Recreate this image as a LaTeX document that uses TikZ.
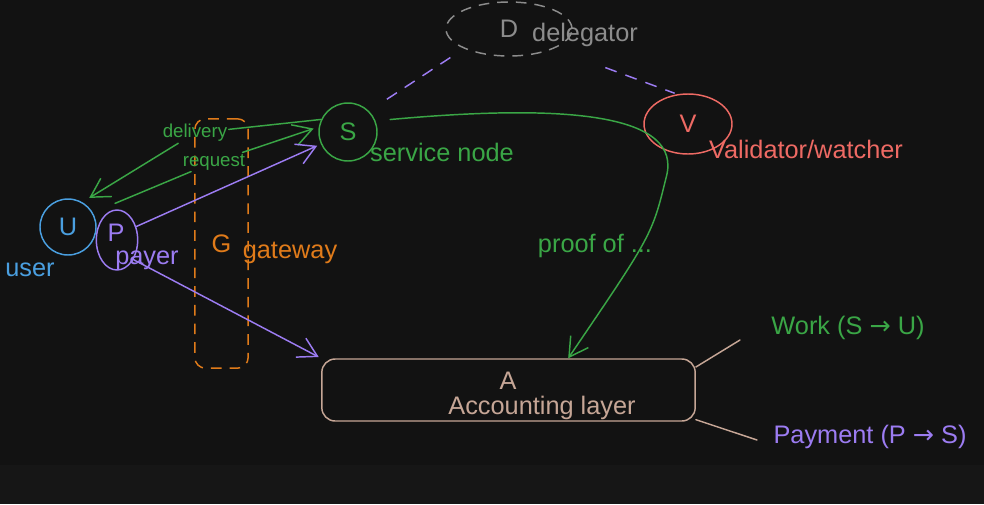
\documentclass[tikz,border=0pt]{standalone}
\usepackage{fontspec}
\setmainfont{Liberation Sans}
\newfontfamily\arrowfont{DejaVu Sans}
\usetikzlibrary{arrows.meta,shapes.geometric}
\definecolor{bgcol}{HTML}{121212}
\definecolor{stripcol}{HTML}{161616}
\definecolor{usercol}{HTML}{4A9FE0}
\definecolor{paycol}{HTML}{9C7CF2}
\definecolor{workcol}{HTML}{3AA646}
\definecolor{gwcol}{HTML}{E07B1A}
\definecolor{valcol}{HTML}{EE6A64}
\definecolor{delcol}{HTML}{8C8C8C}
\definecolor{acccol}{HTML}{C6A696}

\begin{document}
\begin{tikzpicture}[x=0.75pt, y=-0.75pt, >={Straight Barb[length=14pt,width=16pt]},
    lbl/.style={font=\fontsize{19}{21}\selectfont, inner sep=1pt},
    small/.style={font=\fontsize{14}{16}\selectfont, inner sep=1pt},
    actor/.style={ellipse, draw, line width=1.1pt, inner sep=0pt,
                  font=\fontsize{19}{21}\selectfont},
    flow/.style={line width=1.1pt, line cap=round},
    link/.style={line width=1.1pt, dash pattern=on 9pt off 7pt}]

    % ── Canvas ───────────────────────────────────────────────────────────────
    \useasboundingbox (0,0) rectangle (984,504);
    \fill[bgcol] (0,0) rectangle (984,504);
    \fill[stripcol] (0,465) rectangle (984,504);

    % ── Actors ───────────────────────────────────────────────────────────────
    \node[actor, usercol, minimum width=42pt, minimum height=42pt] (U) at (68,227) {U};
    \node[actor, paycol, minimum width=31pt, minimum height=45pt] (P) at (117,240) {};
    \node[lbl, paycol] (Pid) at (116,233) {P};
    \node[actor, workcol, minimum width=43.5pt, minimum height=43.5pt] (S) at (348,132) {S};
    \node[actor, delcol, dash pattern=on 8pt off 6pt,
          minimum width=94.5pt, minimum height=40.5pt] (D) at (509,29) {D};
    \node[actor, valcol, minimum width=66pt, minimum height=45pt] (V) at (688,124) {V};

    % ── Gateway (dashed column) ──────────────────────────────────────────────
    \node[draw=gwcol, text=gwcol, line width=1.1pt, dash pattern=on 8pt off 6pt,
          rounded corners=8pt, minimum width=40pt, minimum height=187pt,
          font=\fontsize{19}{21}\selectfont] (G) at (221.5,243.5) {G};

    % ── Accounting layer ─────────────────────────────────────────────────────
    \node[draw=acccol, line width=1.1pt, rounded corners=10pt,
          minimum width=280pt, minimum height=46.5pt] (A) at (508.5,390) {};
    \node[lbl, acccol] (Aid) at (508,381) {A};
    \node[lbl, acccol] (Aname) at (542,408) {Accounting layer};

    % ── Labels ───────────────────────────────────────────────────────────────
    \node[lbl, usercol] (userlbl) at (30,270) {user};
    \node[lbl, paycol] (paylbl) at (147,260) {payer};
    \node[lbl, gwcol] (gwlbl) at (290,253) {gateway};
    \node[lbl, workcol] (Slbl) at (442,152) {service node};
    \node[lbl, delcol] (Dlbl) at (585,35) {delegator};
    \node[lbl, valcol] (Vlbl) at (806,149) {Validator/watcher};
    \node[lbl, workcol] (proof) at (595,246) {proof of ...};
    \node[lbl, workcol] (wk) at (848,328) {Work (S {\arrowfont →} U)};
    \node[lbl, paycol] (pay) at (870,437) {Payment (P {\arrowfont →} S)};
    \node[small, workcol] (dlv) at (195,133) {delivery};
    \node[small, workcol] (req) at (214,162) {request};

    \coordinate (wkend) at (740,340);
    \coordinate (payend) at (757,440);

    % ── Delivery (S -> U) and request (U -> S) ───────────────────────────────
    \draw[flow, workcol] (S.155) -- (dlv);
    \draw[flow, workcol, ->, shorten >=6pt] (dlv) -- (U.60);
    \draw[flow, workcol, shorten <=18pt] (U.30) -- (req);
    \draw[flow, workcol, ->, shorten >=4pt] (req) -- (S.170);

    % ── Payer flows ──────────────────────────────────────────────────────────
    \draw[flow, paycol, ->, shorten >=3pt] (P.35) -- (S);
    \draw[flow, paycol, ->, shorten >=2pt] (P.-50) -- (A.north west);

    % ── Delegation links ─────────────────────────────────────────────────────
    \draw[link, paycol, shorten <=16pt, shorten >=8pt] (S.north east) -- (D.south west);
    \draw[link, paycol, shorten <=41pt, shorten >=2pt] (D.south east) -- (V.110);

    % ── Proof of work to accounting ──────────────────────────────────────────
    \draw[flow, workcol, ->, shorten <=11pt]
        (S.22) .. controls (560,104) and (685,112) .. (666,178)
               .. controls (652,235) .. (A.28);

    % ── Ledger entries ───────────────────────────────────────────────────────
    \draw[flow, acccol] (A.7) -- (wkend);
    \draw[flow, acccol] (A.-9) -- (payend);

\end{tikzpicture}
\end{document}
